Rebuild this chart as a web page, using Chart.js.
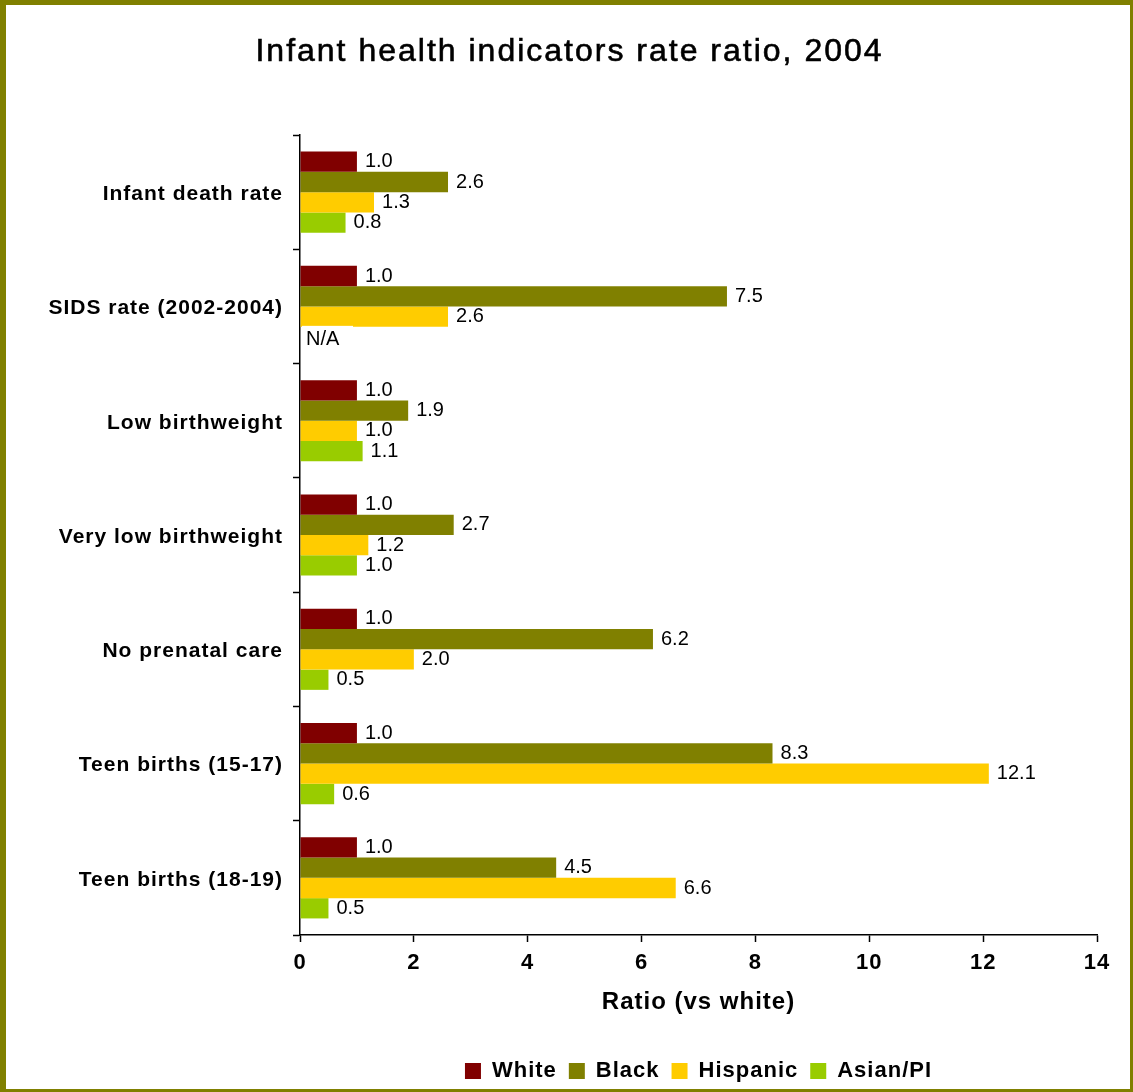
<!DOCTYPE html>
<html>
<head>
<meta charset="utf-8">
<script src="https://cdn.jsdelivr.net/npm/chart.js@4/dist/chart.umd.min.js"></script>
<style>
  html, body { margin: 0; padding: 0; background: #ffffff; }
  #wrap { width: 1133px; height: 1092px; position: relative; }
</style>
</head>
<body>
<div id="wrap"><canvas id="c"></canvas></div>
<script>
// ---------- data ----------
const chartTitle = 'Infant health indicators rate ratio, 2004';
const categories = [
  'Infant death rate',
  'SIDS rate (2002-2004)',
  'Low birthweight',
  'Very low birthweight',
  'No prenatal care',
  'Teen births (15-17)',
  'Teen births (18-19)'
];
const seriesNames = ['White', 'Black', 'Hispanic', 'Asian/PI'];
const whiteValues    = [1.0, 1.0, 1.0, 1.0, 1.0, 1.0, 1.0];
const blackValues    = [2.6, 7.5, 1.9, 2.7, 6.2, 8.3, 4.5];
const hispanicValues = [1.3, 2.6, 1.0, 1.2, 2.0, 12.1, 6.6];
const asianValues    = [0.8, null, 1.1, 1.0, 0.5, 0.6, 0.5];
const missingLabel = 'N/A';
const xAxisTitle = 'Ratio (vs white)';
const xMin = 0, xMax = 14, xStep = 2;
const seriesColors = ['#800000', '#808000', '#FFCC00', '#99CC00'];

// ---------- plugins ----------
const FONT = '"Liberation Sans", Arial, sans-serif';

const spacingPlugin = {
  id: 'spacing',
  beforeLayout(chart) { chart.ctx.letterSpacing = '1px'; },
  beforeDraw(chart) { chart.ctx.letterSpacing = '1px'; }
};

const framePlugin = {
  id: 'frame',
  beforeDraw(chart) {
    const ctx = chart.ctx;
    ctx.save();
    ctx.fillStyle = '#ffffff';
    ctx.fillRect(0, 0, chart.width, chart.height);
    ctx.restore();
  },
  afterDraw(chart) {
    const ctx = chart.ctx, w = chart.width, h = chart.height;
    ctx.save();
    // title
    ctx.letterSpacing = '2px';
    ctx.font = '32px ' + FONT;
    ctx.fillStyle = '#000000';
    ctx.strokeStyle = '#000000';
    ctx.lineWidth = 0.6;
    ctx.textAlign = 'center';
    ctx.textBaseline = 'middle';
    ctx.fillText(chartTitle, w / 2 + 3, 52);
    ctx.strokeText(chartTitle, w / 2 + 3, 52);
    // outer olive frame
    ctx.fillStyle = '#808000';
    ctx.fillRect(0, 0, w, 5);
    ctx.fillRect(0, 0, 6, h);
    ctx.fillRect(w - 3, 0, 3, h);
    ctx.fillRect(0, h - 3, w, 3);
    ctx.restore();
  }
};

const valueLabelPlugin = {
  id: 'valueLabels',
  afterDatasetsDraw(chart) {
    const ctx = chart.ctx;
    const xScale = chart.scales.x;
    ctx.save();
    ctx.letterSpacing = '0px';
    ctx.font = '20px ' + FONT;
    ctx.textBaseline = 'middle';
    ctx.textAlign = 'left';
    chart.data.datasets.forEach((ds, i) => {
      const meta = chart.getDatasetMeta(i);
      if (meta.hidden) return;
      meta.data.forEach((bar, j) => {
        const v = ds.data[j];
        if (v === null || v === undefined) {
          const x0 = xScale.getPixelForValue(0);
          ctx.fillStyle = '#ffffff';
          ctx.fillRect(x0 + 2, bar.y - 11, 51, 26);
          ctx.fillStyle = '#000000';
          ctx.fillText(missingLabel, x0 + 6, bar.y + 3);
        } else {
          ctx.fillStyle = '#000000';
          ctx.fillText(v.toFixed(1), bar.x + 8, bar.y);
        }
      });
    });
    ctx.restore();
  }
};

// ---------- chart ----------
const valueSets = [whiteValues, blackValues, hispanicValues, asianValues];
const datasets = seriesNames.map((name, i) => ({
  label: name,
  data: valueSets[i],
  backgroundColor: seriesColors[i],
  borderWidth: 0,
  categoryPercentage: 0.71,
  barPercentage: 1.0
}));

new Chart(document.getElementById('c'), {
  type: 'bar',
  data: { labels: categories, datasets },
  plugins: [spacingPlugin, framePlugin, valueLabelPlugin],
  options: {
    indexAxis: 'y',
    responsive: true,
    maintainAspectRatio: false,
    devicePixelRatio: 1,
    animation: false,
    layout: { padding: { top: 135, right: 36, bottom: 0, left: 0 } },
    plugins: {
      title: { display: false },
      tooltip: { enabled: false },
      legend: {
        display: true,
        position: 'bottom',
        fullSize: false,
        labels: {
          color: '#000000',
          font: { family: FONT, size: 22, weight: 'bold' },
          boxWidth: 16,
          boxHeight: 16,
          padding: 12
        }
      }
    },
    scales: {
      x: {
        type: 'linear',
        min: xMin,
        max: xMax,
        ticks: {
          stepSize: xStep,
          color: '#000000',
          font: { family: FONT, size: 22, weight: 'bold' },
          padding: 8
        },
        grid: {
          drawOnChartArea: false,
          drawTicks: true,
          tickLength: 7,
          tickColor: '#000000',
          tickWidth: 1.5
        },
        border: { display: true, color: '#000000', width: 1.5 },
        title: {
          display: true,
          text: xAxisTitle,
          color: '#000000',
          font: { family: FONT, size: 24, weight: 'bold' },
          padding: { top: 0, bottom: 31 }
        },
        afterFit(scale) { scale.height = 113; }
      },
      y: {
        type: 'category',
        ticks: {
          color: '#000000',
          font: { family: FONT, size: 21, weight: 'bold' },
          padding: 10,
          labelOffset: 2
        },
        grid: {
          offset: true,
          drawOnChartArea: false,
          drawTicks: true,
          tickLength: 7,
          tickColor: '#000000',
          tickWidth: 1.5
        },
        border: { display: true, color: '#000000', width: 1.5 },
        afterFit(scale) { scale.width = 300; }
      }
    }
  }
});
</script>
</body>
</html>
